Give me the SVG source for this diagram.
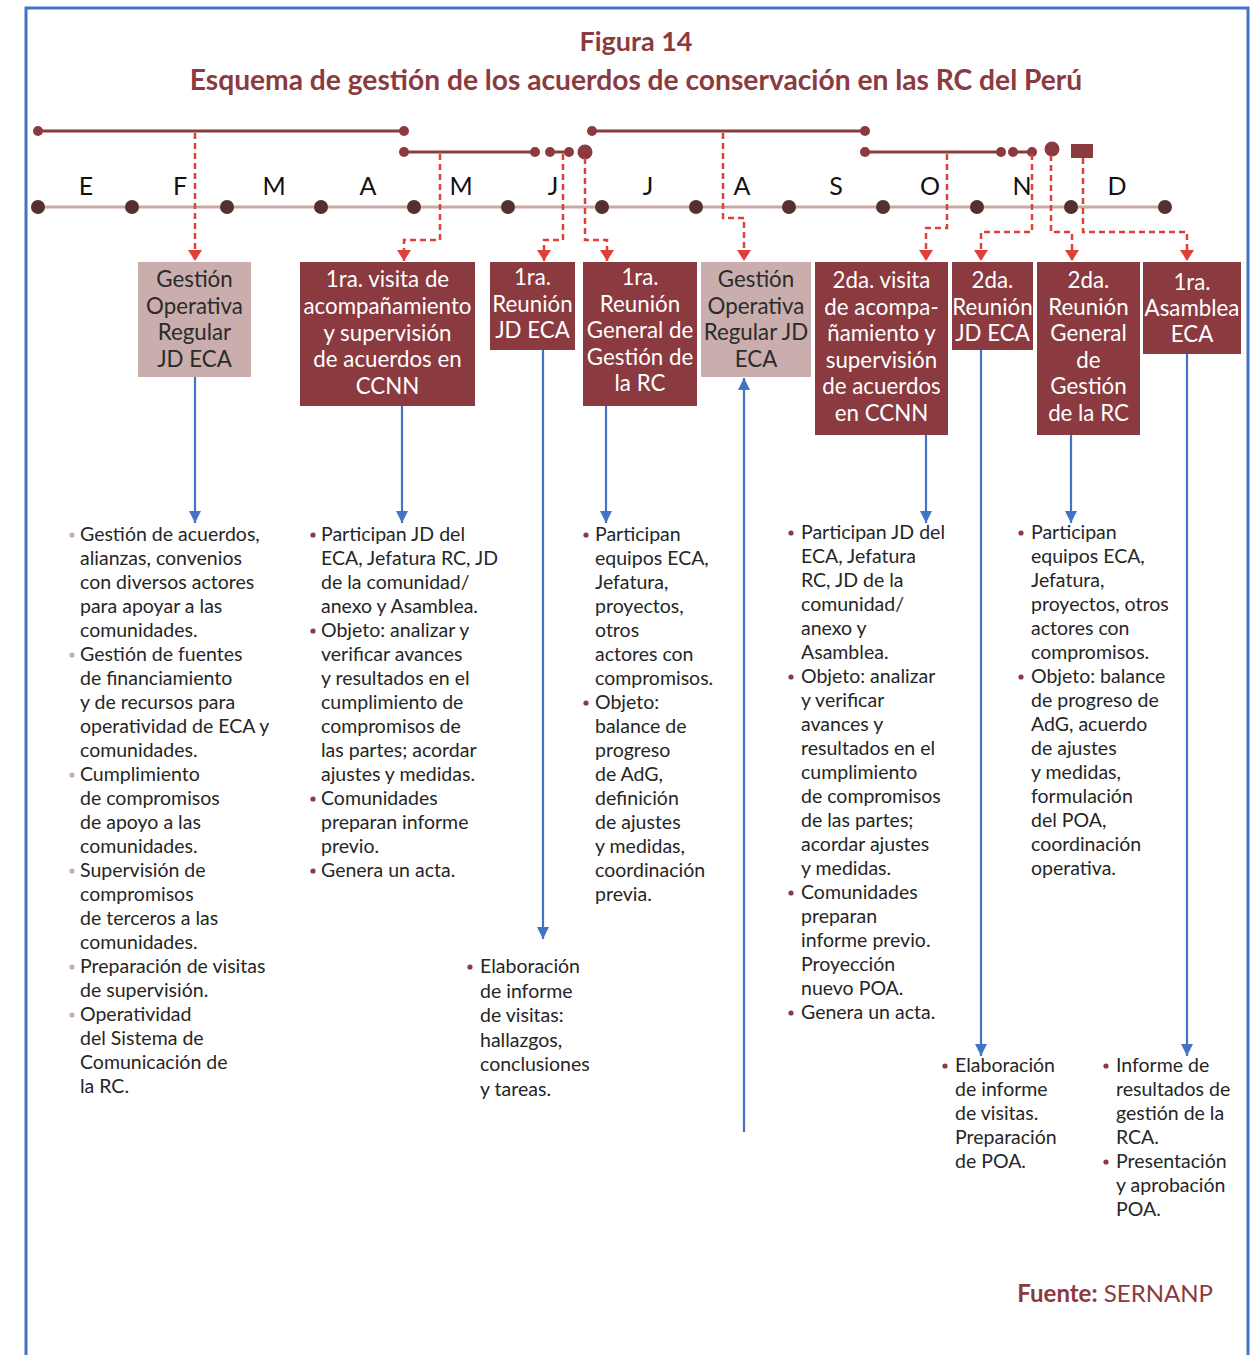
<svg xmlns="http://www.w3.org/2000/svg" width="1256" height="1355" viewBox="0 0 1256 1355">
<defs>
<style>
.frame{fill:none;stroke:#4472C4;stroke-width:3}
.title{font-family:Lato,"Open Sans",sans-serif;font-weight:bold;fill:#8B3A3F;text-anchor:middle}
.month{font-family:Lato,"Open Sans",sans-serif;font-size:25px;fill:#111;text-anchor:middle}
.axis{stroke:#C9A9A6;stroke-width:3}
.mdot{fill:#54302F}
.bar{stroke:#8B3A3F;stroke-width:3;fill:none}
.bdot{fill:#8B3A3F}
.dash{fill:none;stroke:#E0403A;stroke-width:2.5;stroke-dasharray:6 4}
.blue{fill:none;stroke:#4472C4;stroke-width:2.2}
.boxd{fill:#8B3A3F}
.boxl{fill:#C9AEAD}
.bt{font-family:Lato,"Open Sans",sans-serif;font-size:22.3px;text-anchor:middle}
.btw{fill:#ffffff}
.btd{fill:#2b2b2b}
.body{font-family:Lato,"Open Sans",sans-serif;font-size:19.5px;fill:#262626}
.bulL{fill:#C9AEAD}
.bulD{fill:#8B3A3F}
.src{font-family:Lato,"Open Sans",sans-serif;font-size:24px;fill:#8B3A3F}
</style>
<marker id="redArrow" viewBox="0 0 14 11" refX="7" refY="11" markerWidth="14" markerHeight="11" markerUnits="userSpaceOnUse" orient="0">
<path d="M0,0 L14,0 L7,11 Z" fill="#E0403A"/>
</marker>
<marker id="blueArrow" viewBox="0 0 12 12" refX="12" refY="6" markerWidth="12" markerHeight="12" markerUnits="userSpaceOnUse" orient="auto">
<path d="M0,0 L12,6 L0,12 Z" fill="#4472C4"/>
</marker>
</defs>
<rect width="1256" height="1355" fill="#ffffff"/>
<path class="frame" d="M26,1356 V8 H1248 V1356"/>

<g id="title">
<text class="title" x="636" y="51" font-size="27">Figura 14</text>
<text class="title" x="636" y="90" font-size="28.2">Esquema de gestión de los acuerdos de conservación en las RC del Perú</text>
</g>

<g id="timeline">
<line class="axis" x1="38" y1="207" x2="1165" y2="207"/>
<circle class="mdot" cx="38" cy="207" r="7"/><circle class="mdot" cx="132" cy="207" r="7"/><circle class="mdot" cx="227" cy="207" r="7"/><circle class="mdot" cx="321" cy="207" r="7"/><circle class="mdot" cx="414" cy="207" r="7"/><circle class="mdot" cx="508" cy="207" r="7"/><circle class="mdot" cx="602" cy="207" r="7"/><circle class="mdot" cx="696" cy="207" r="7"/><circle class="mdot" cx="789" cy="207" r="7"/><circle class="mdot" cx="883" cy="207" r="7"/><circle class="mdot" cx="977" cy="207" r="7"/><circle class="mdot" cx="1071" cy="207" r="7"/><circle class="mdot" cx="1165" cy="207" r="7"/>
<text class="month" x="86" y="195">E</text><text class="month" x="180" y="195">F</text><text class="month" x="274" y="195">M</text><text class="month" x="368" y="195">A</text><text class="month" x="461" y="195">M</text><text class="month" x="553" y="195">J</text><text class="month" x="648" y="195">J</text><text class="month" x="742" y="195">A</text><text class="month" x="836" y="195">S</text><text class="month" x="930" y="195">O</text><text class="month" x="1022" y="195">N</text><text class="month" x="1117" y="195">D</text>
</g>

<g id="bars">
<line class="bar" x1="38" y1="131" x2="404" y2="131"/><circle class="bdot" cx="38" cy="131" r="5"/><circle class="bdot" cx="404" cy="131" r="5"/>
<line class="bar" x1="404" y1="152" x2="535" y2="152"/><circle class="bdot" cx="404" cy="152" r="5"/><circle class="bdot" cx="535" cy="152" r="5"/>
<line class="bar" x1="550" y1="152" x2="569" y2="152"/><circle class="bdot" cx="550" cy="152" r="5"/><circle class="bdot" cx="569" cy="152" r="5"/>
<circle class="bdot" cx="585" cy="152" r="7.5"/>
<line class="bar" x1="592" y1="131" x2="865" y2="131"/><circle class="bdot" cx="592" cy="131" r="5"/><circle class="bdot" cx="865" cy="131" r="5"/>
<line class="bar" x1="865" y1="152" x2="1001" y2="152"/><circle class="bdot" cx="865" cy="152" r="5"/><circle class="bdot" cx="1001" cy="152" r="5"/>
<line class="bar" x1="1013" y1="152" x2="1032" y2="152"/><circle class="bdot" cx="1013" cy="152" r="5"/><circle class="bdot" cx="1032" cy="152" r="5"/>
<circle class="bdot" cx="1052" cy="149" r="7.5"/>
<rect class="bdot" x="1071" y="144" width="22" height="14"/>
</g>

<g id="connectors">
<path class="dash" d="M195,133 V261" marker-end="url(#redArrow)"/>
<path class="dash" d="M440,154 V240 H404 V261" marker-end="url(#redArrow)"/>
<path class="dash" d="M563,154 V240 H544 V261" marker-end="url(#redArrow)"/>
<path class="dash" d="M585,158 V240 H607 V261" marker-end="url(#redArrow)"/>
<path class="dash" d="M723,133 V218 H744 V261" marker-end="url(#redArrow)"/>
<path class="dash" d="M947,154 V228 H926 V261" marker-end="url(#redArrow)"/>
<path class="dash" d="M1032,154 V232 H981 V261" marker-end="url(#redArrow)"/>
<path class="dash" d="M1051,155 V232 H1072 V261" marker-end="url(#redArrow)"/>
<path class="dash" d="M1083,158 V232 H1187 V261" marker-end="url(#redArrow)"/>
<path class="blue" d="M195,377 V523" marker-end="url(#blueArrow)"/>
<path class="blue" d="M402,406 V523" marker-end="url(#blueArrow)"/>
<path class="blue" d="M543,350 V939" marker-end="url(#blueArrow)"/>
<path class="blue" d="M606,406 V523" marker-end="url(#blueArrow)"/>
<path class="blue" d="M744,1132 V378" marker-end="url(#blueArrow)"/>
<path class="blue" d="M926,435 V523" marker-end="url(#blueArrow)"/>
<path class="blue" d="M981,350 V1056" marker-end="url(#blueArrow)"/>
<path class="blue" d="M1071,435 V523" marker-end="url(#blueArrow)"/>
<path class="blue" d="M1187,354 V1056" marker-end="url(#blueArrow)"/>
</g>

<g id="box1">
<rect class="boxl" x="138" y="262" width="113" height="115"/>
<text class="bt btd"><tspan x="194.5" y="287">Gestión</tspan><tspan x="194.5" dy="26.5">Operativa</tspan><tspan x="194.5" dy="26.5">Regular</tspan><tspan x="194.5" dy="26.5">JD ECA</tspan></text>
</g>
<g id="box2">
<rect class="boxd" x="300" y="262" width="175" height="144"/>
<text class="bt btw"><tspan x="387.5" y="287">1ra. visita de</tspan><tspan x="387.5" dy="26.8">acompañamiento</tspan><tspan x="387.5" dy="26.8">y supervisión</tspan><tspan x="387.5" dy="26.8">de acuerdos en</tspan><tspan x="387.5" dy="26.8">CCNN</tspan></text>
</g>
<g id="box3">
<rect class="boxd" x="490" y="262" width="85" height="88"/>
<text class="bt btw"><tspan x="532.5" y="285">1ra.</tspan><tspan x="532.5" dy="26.5">Reunión</tspan><tspan x="532.5" dy="26.5">JD ECA</tspan></text>
</g>
<g id="box4">
<rect class="boxd" x="583" y="262" width="114" height="144"/>
<text class="bt btw"><tspan x="640" y="285">1ra.</tspan><tspan x="640" dy="26.5">Reunión</tspan><tspan x="640" dy="26.5">General de</tspan><tspan x="640" dy="26.5">Gestión de</tspan><tspan x="640" dy="26.5">la RC</tspan></text>
</g>
<g id="box5">
<rect class="boxl" x="701" y="262" width="110" height="115"/>
<text class="bt btd"><tspan x="756" y="287">Gestión</tspan><tspan x="756" dy="26.5">Operativa</tspan><tspan x="756" dy="26.5">Regular JD</tspan><tspan x="756" dy="26.5">ECA</tspan></text>
</g>
<g id="box6">
<rect class="boxd" x="815" y="262" width="133" height="173"/>
<text class="bt btw"><tspan x="881.5" y="288">2da. visita</tspan><tspan x="881.5" dy="26.6">de acompa-</tspan><tspan x="881.5" dy="26.6">ñamiento y</tspan><tspan x="881.5" dy="26.6">supervisión</tspan><tspan x="881.5" dy="26.6">de acuerdos</tspan><tspan x="881.5" dy="26.6">en CCNN</tspan></text>
</g>
<g id="box7">
<rect class="boxd" x="952" y="262" width="81" height="88"/>
<text class="bt btw"><tspan x="992.5" y="288">2da.</tspan><tspan x="992.5" dy="26.5">Reunión</tspan><tspan x="992.5" dy="26.5">JD ECA</tspan></text>
</g>
<g id="box8">
<rect class="boxd" x="1037" y="262" width="103" height="173"/>
<text class="bt btw"><tspan x="1088.5" y="288">2da.</tspan><tspan x="1088.5" dy="26.6">Reunión</tspan><tspan x="1088.5" dy="26.6">General</tspan><tspan x="1088.5" dy="26.6">de</tspan><tspan x="1088.5" dy="26.6">Gestión</tspan><tspan x="1088.5" dy="26.6">de la RC</tspan></text>
</g>
<g id="box9">
<rect class="boxd" x="1143" y="262" width="98" height="92"/>
<text class="bt btw"><tspan x="1192" y="290">1ra.</tspan><tspan x="1192" dy="26">Asamblea</tspan><tspan x="1192" dy="26">ECA</tspan></text>
</g>

<g id="text1">
<g class="bulL"><circle cx="72" cy="535" r="2.6"/><circle cx="72" cy="655" r="2.6"/><circle cx="72" cy="775" r="2.6"/><circle cx="72" cy="871" r="2.6"/><circle cx="72" cy="967" r="2.6"/><circle cx="72" cy="1015" r="2.6"/></g>
<text class="body"><tspan x="80" y="541">Gestión de acuerdos,</tspan><tspan x="80" dy="24">alianzas, convenios</tspan><tspan x="80" dy="24">con diversos actores</tspan><tspan x="80" dy="24">para apoyar a las</tspan><tspan x="80" dy="24">comunidades.</tspan><tspan x="80" dy="24">Gestión de fuentes</tspan><tspan x="80" dy="24">de financiamiento</tspan><tspan x="80" dy="24">y de recursos para</tspan><tspan x="80" dy="24">operatividad de ECA y</tspan><tspan x="80" dy="24">comunidades.</tspan><tspan x="80" dy="24">Cumplimiento</tspan><tspan x="80" dy="24">de compromisos</tspan><tspan x="80" dy="24">de apoyo a las</tspan><tspan x="80" dy="24">comunidades.</tspan><tspan x="80" dy="24">Supervisión de</tspan><tspan x="80" dy="24">compromisos</tspan><tspan x="80" dy="24">de terceros a las</tspan><tspan x="80" dy="24">comunidades.</tspan><tspan x="80" dy="24">Preparación de visitas</tspan><tspan x="80" dy="24">de supervisión.</tspan><tspan x="80" dy="24">Operatividad</tspan><tspan x="80" dy="24">del Sistema de</tspan><tspan x="80" dy="24">Comunicación de</tspan><tspan x="80" dy="24">la RC.</tspan></text>
</g>

<g id="text2">
<g class="bulD"><circle cx="313" cy="535" r="2.6"/><circle cx="313" cy="631" r="2.6"/><circle cx="313" cy="799" r="2.6"/><circle cx="313" cy="871" r="2.6"/></g>
<text class="body"><tspan x="321" y="541">Participan JD del</tspan><tspan x="321" dy="24">ECA, Jefatura RC, JD</tspan><tspan x="321" dy="24">de la comunidad/</tspan><tspan x="321" dy="24">anexo y Asamblea.</tspan><tspan x="321" dy="24">Objeto: analizar y</tspan><tspan x="321" dy="24">verificar avances</tspan><tspan x="321" dy="24">y resultados en el</tspan><tspan x="321" dy="24">cumplimiento de</tspan><tspan x="321" dy="24">compromisos de</tspan><tspan x="321" dy="24">las partes; acordar</tspan><tspan x="321" dy="24">ajustes y medidas.</tspan><tspan x="321" dy="24">Comunidades</tspan><tspan x="321" dy="24">preparan informe</tspan><tspan x="321" dy="24">previo.</tspan><tspan x="321" dy="24">Genera un acta.</tspan></text>
</g>

<g id="text3">
<g class="bulD"><circle cx="470" cy="967" r="2.6"/></g>
<text class="body"><tspan x="480" y="973">Elaboración</tspan><tspan x="480" dy="24.6">de informe</tspan><tspan x="480" dy="24.6">de visitas:</tspan><tspan x="480" dy="24.6">hallazgos,</tspan><tspan x="480" dy="24.6">conclusiones</tspan><tspan x="480" dy="24.6">y tareas.</tspan></text>
</g>

<g id="text4">
<g class="bulD"><circle cx="586" cy="535" r="2.6"/><circle cx="586" cy="703" r="2.6"/></g>
<text class="body"><tspan x="595" y="541">Participan</tspan><tspan x="595" dy="24">equipos ECA,</tspan><tspan x="595" dy="24">Jefatura,</tspan><tspan x="595" dy="24">proyectos,</tspan><tspan x="595" dy="24">otros</tspan><tspan x="595" dy="24">actores con</tspan><tspan x="595" dy="24">compromisos.</tspan><tspan x="595" dy="24">Objeto:</tspan><tspan x="595" dy="24">balance de</tspan><tspan x="595" dy="24">progreso</tspan><tspan x="595" dy="24">de AdG,</tspan><tspan x="595" dy="24">definición</tspan><tspan x="595" dy="24">de ajustes</tspan><tspan x="595" dy="24">y medidas,</tspan><tspan x="595" dy="24">coordinación</tspan><tspan x="595" dy="24">previa.</tspan></text>
</g>

<g id="text5">
<g class="bulD"><circle cx="791" cy="533" r="2.6"/><circle cx="791" cy="677" r="2.6"/><circle cx="791" cy="893" r="2.6"/><circle cx="791" cy="1013" r="2.6"/></g>
<text class="body"><tspan x="801" y="539">Participan JD del</tspan><tspan x="801" dy="24">ECA, Jefatura</tspan><tspan x="801" dy="24">RC, JD de la</tspan><tspan x="801" dy="24">comunidad/</tspan><tspan x="801" dy="24">anexo y</tspan><tspan x="801" dy="24">Asamblea.</tspan><tspan x="801" dy="24">Objeto: analizar</tspan><tspan x="801" dy="24">y verificar</tspan><tspan x="801" dy="24">avances y</tspan><tspan x="801" dy="24">resultados en el</tspan><tspan x="801" dy="24">cumplimiento</tspan><tspan x="801" dy="24">de compromisos</tspan><tspan x="801" dy="24">de las partes;</tspan><tspan x="801" dy="24">acordar ajustes</tspan><tspan x="801" dy="24">y medidas.</tspan><tspan x="801" dy="24">Comunidades</tspan><tspan x="801" dy="24">preparan</tspan><tspan x="801" dy="24">informe previo.</tspan><tspan x="801" dy="24">Proyección</tspan><tspan x="801" dy="24">nuevo POA.</tspan><tspan x="801" dy="24">Genera un acta.</tspan></text>
</g>

<g id="text6">
<g class="bulD"><circle cx="945" cy="1066" r="2.6"/></g>
<text class="body"><tspan x="955" y="1072">Elaboración</tspan><tspan x="955" dy="24">de informe</tspan><tspan x="955" dy="24">de visitas.</tspan><tspan x="955" dy="24">Preparación</tspan><tspan x="955" dy="24">de POA.</tspan></text>
</g>

<g id="text7">
<g class="bulD"><circle cx="1021" cy="533" r="2.6"/><circle cx="1021" cy="677" r="2.6"/></g>
<text class="body"><tspan x="1031" y="539">Participan</tspan><tspan x="1031" dy="24">equipos ECA,</tspan><tspan x="1031" dy="24">Jefatura,</tspan><tspan x="1031" dy="24">proyectos, otros</tspan><tspan x="1031" dy="24">actores con</tspan><tspan x="1031" dy="24">compromisos.</tspan><tspan x="1031" dy="24">Objeto: balance</tspan><tspan x="1031" dy="24">de progreso de</tspan><tspan x="1031" dy="24">AdG, acuerdo</tspan><tspan x="1031" dy="24">de ajustes</tspan><tspan x="1031" dy="24">y medidas,</tspan><tspan x="1031" dy="24">formulación</tspan><tspan x="1031" dy="24">del POA,</tspan><tspan x="1031" dy="24">coordinación</tspan><tspan x="1031" dy="24">operativa.</tspan></text>
</g>

<g id="text8">
<g class="bulD"><circle cx="1106" cy="1066" r="2.6"/><circle cx="1106" cy="1162" r="2.6"/></g>
<text class="body"><tspan x="1116" y="1072">Informe de</tspan><tspan x="1116" dy="24">resultados de</tspan><tspan x="1116" dy="24">gestión de la</tspan><tspan x="1116" dy="24">RCA.</tspan><tspan x="1116" dy="24">Presentación</tspan><tspan x="1116" dy="24">y aprobación</tspan><tspan x="1116" dy="24">POA.</tspan></text>
</g>

<g id="source">
<text class="src" x="1213" y="1302" text-anchor="end"><tspan font-weight="bold">Fuente:</tspan> SERNANP</text>
</g>
</svg>
